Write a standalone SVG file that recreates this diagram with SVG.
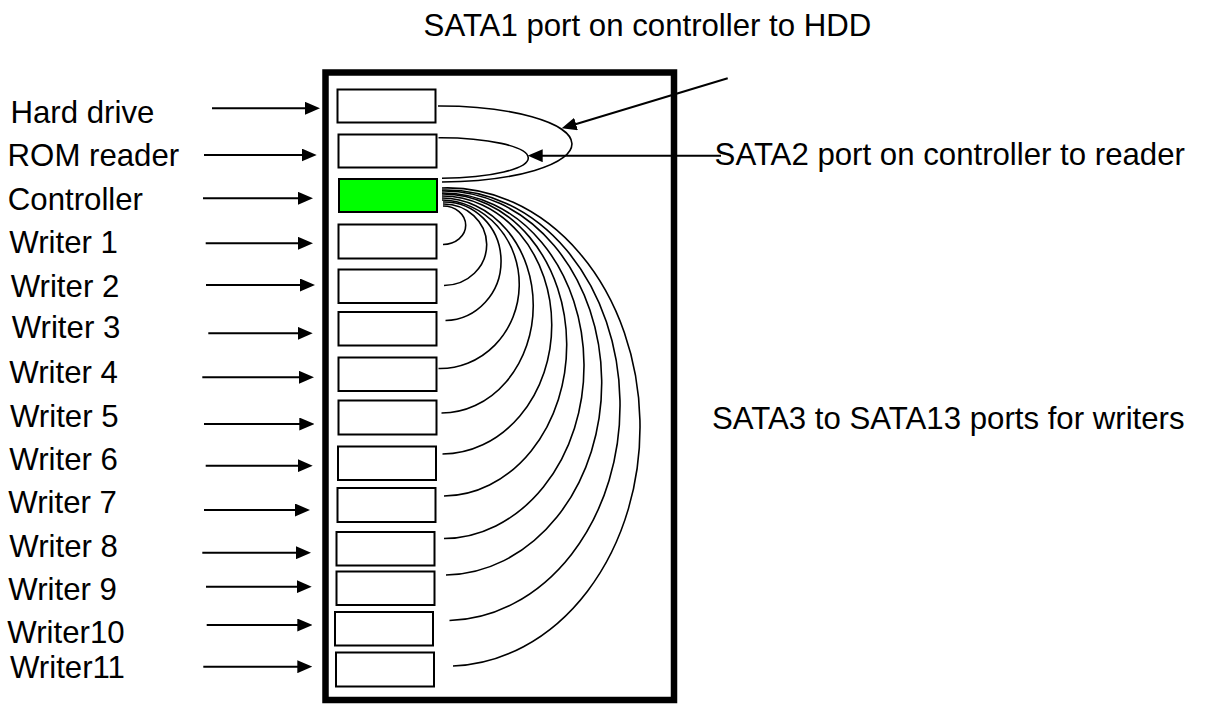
<svg xmlns="http://www.w3.org/2000/svg" width="1205" height="704" viewBox="0 0 1205 704">
  <style>
    text { font-family: "Liberation Sans", Arial, sans-serif; font-size: 31.2px; fill: #000; }
    .bay { fill: #fff; stroke: #000; stroke-width: 2; }
    .ctrl { fill: #00ff00; stroke: #000; stroke-width: 2; }
    .chassis { fill: none; stroke: #000; stroke-width: 6.5; }
    .arrow { fill: none; stroke: #000; stroke-width: 2; marker-end: url(#head); }
    .cable { fill: none; stroke: #000; stroke-width: 1.6; }
  </style>
  <defs>
    <marker id="head" markerUnits="userSpaceOnUse" markerWidth="15" markerHeight="13" refX="11" refY="6.5" orient="auto">
      <path d="M0,0 L15,6.5 L0,13 Z" fill="#000"/>
    </marker>
  </defs>

  <rect id="chassis" class="chassis" x="325.5" y="72.5" width="348.5" height="627.5"/>

  <g id="hard-drive">
    <rect class="bay" x="337.5" y="89.5" width="98" height="33"/>
    <text x="10.5" y="123.3">Hard drive</text>
  </g>
  <g id="rom-reader">
    <rect class="bay" x="338.5" y="134.5" width="98" height="33"/>
    <text x="7.6" y="166">ROM reader</text>
  </g>
  <g id="controller">
    <rect class="ctrl" x="339" y="179" width="98" height="33"/>
    <text x="7.8" y="210">Controller</text>
  </g>
  <g id="writer-1">
    <rect class="bay" x="338.5" y="224.5" width="98" height="34"/>
    <text x="9.3" y="253.3">Writer 1</text>
  </g>
  <g id="writer-2">
    <rect class="bay" x="338.5" y="269.5" width="98" height="33.5"/>
    <text x="10.7" y="296.7">Writer 2</text>
  </g>
  <g id="writer-3">
    <rect class="bay" x="338.5" y="312" width="98" height="33.5"/>
    <text x="11.7" y="338.3">Writer 3</text>
  </g>
  <g id="writer-4">
    <rect class="bay" x="338.5" y="357.5" width="98" height="33.5"/>
    <text x="9.3" y="383.3">Writer 4</text>
  </g>
  <g id="writer-5">
    <rect class="bay" x="338.5" y="400.5" width="98" height="34"/>
    <text x="10" y="426.7">Writer 5</text>
  </g>
  <g id="writer-6">
    <rect class="bay" x="338" y="446.5" width="98" height="33.5"/>
    <text x="9.3" y="470">Writer 6</text>
  </g>
  <g id="writer-7">
    <rect class="bay" x="337.5" y="488" width="98" height="34"/>
    <text x="8.3" y="513.3">Writer 7</text>
  </g>
  <g id="writer-8">
    <rect class="bay" x="336.5" y="532" width="98" height="33.5"/>
    <text x="9.3" y="557.3">Writer 8</text>
  </g>
  <g id="writer-9">
    <rect class="bay" x="336.5" y="571.5" width="98" height="33.5"/>
    <text x="8.3" y="600">Writer 9</text>
  </g>
  <g id="writer-10">
    <rect class="bay" x="335" y="612" width="98" height="33.5"/>
    <text x="7.3" y="643.3">Writer10</text>
  </g>
  <g id="writer-11">
    <rect class="bay" x="336" y="652.5" width="98" height="34"/>
    <text x="10" y="678.3">Writer11</text>
  </g>

  <g id="port-notes">
    <text x="423.6" y="36">SATA1 port on controller to HDD</text>
    <text x="714.6" y="165">SATA2 port on controller to reader</text>
    <text x="712" y="429">SATA3 to SATA13 ports for writers</text>
  </g>

  <g id="connectors">
    <!-- label pointers into the chassis -->
    <line class="arrow" x1="212" y1="108.3" x2="316" y2="108.3"/>
    <line class="arrow" x1="204" y1="155" x2="312.7" y2="155"/>
    <line class="arrow" x1="203" y1="198.3" x2="309" y2="198.3"/>
    <line class="arrow" x1="205.7" y1="243.3" x2="309" y2="243.3"/>
    <line class="arrow" x1="206" y1="285" x2="311" y2="285"/>
    <line class="arrow" x1="208.3" y1="333.3" x2="308.7" y2="333.3"/>
    <line class="arrow" x1="202.3" y1="377.3" x2="310" y2="377.3"/>
    <line class="arrow" x1="204" y1="424" x2="310.3" y2="424"/>
    <line class="arrow" x1="205.7" y1="465.7" x2="308.7" y2="465.7"/>
    <line class="arrow" x1="204" y1="510" x2="306" y2="510"/>
    <line class="arrow" x1="202.3" y1="552.7" x2="307" y2="552.7"/>
    <line class="arrow" x1="206" y1="586.7" x2="307.7" y2="586.7"/>
    <line class="arrow" x1="206.7" y1="625" x2="308.3" y2="625"/>
    <line class="arrow" x1="203.3" y1="666.7" x2="308.3" y2="666.7"/>

    <!-- note pointers to the HDD and reader cables -->
    <line class="arrow" x1="727.7" y1="78.3" x2="565.5" y2="127.2"/>
    <line class="arrow" x1="721" y1="155.7" x2="531.7" y2="155.7"/>

    <!-- SATA cables: HDD and reader -->
    <path class="cable" d="M438,106 A132,38 0 0 1 442,182"/>
    <path class="cable" d="M438.5,137.7 A88,20.3 0 0 1 442,178.3"/>

    <!-- SATA cables: writers -->
    <path class="cable" d="M443,206 A22.7,19.25 0 0 1 443,244.5"/>
    <path class="cable" d="M443,204 A43.2,40.75 0 0 1 444,285.5"/>
    <path class="cable" d="M443,202 A56.8,59.25 0 0 1 445.5,320.5"/>
    <path class="cable" d="M442,200 A79,84.25 0 0 1 438.5,368.5"/>
    <path class="cable" d="M442,198 A91.5,107.5 0 0 1 441.5,413"/>
    <path class="cable" d="M442,196 A109.5,129 0 0 1 442.5,454"/>
    <path class="cable" d="M442,194 A123.7,151 0 0 1 444,496"/>
    <path class="cable" d="M442,193 A141,172.75 0 0 1 444,538.5"/>
    <path class="cable" d="M442,191 A157.7,192 0 0 1 446,575"/>
    <path class="cable" d="M442,190 A174.3,215.25 0 0 1 449.5,620.5"/>
    <path class="cable" d="M442,188 A192.5,239 0 0 1 453,666"/>
  </g>
</svg>
